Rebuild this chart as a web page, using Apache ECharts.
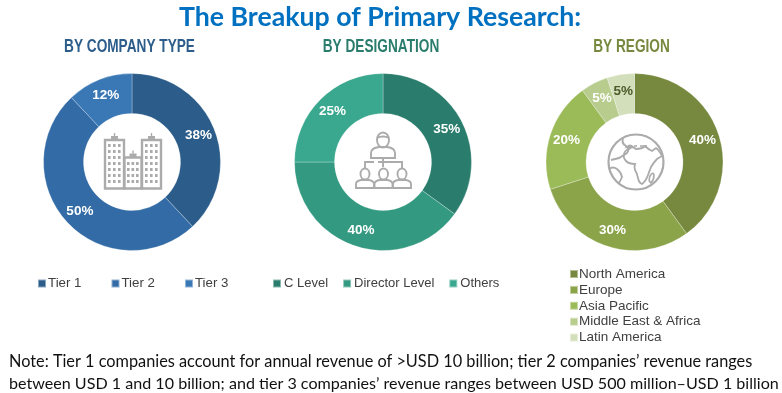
<!DOCTYPE html>
<html><head><meta charset="utf-8">
<style>html,body{margin:0;padding:0;background:#fff}#c{width:782px;height:393px}</style>
<script src="https://cdn.jsdelivr.net/npm/echarts@6/dist/echarts.min.js"></script>
</head><body><div id="c"></div>
<script>
const mainTitle = 'The Breakup of Primary Research:';
const noteLines = [
 'Note: Tier 1 companies account for annual revenue of >USD 10 billion; tier 2 companies\u2019 revenue ranges',
 'between USD 1 and 10 billion; and tier 3 companies\u2019 revenue ranges between USD 500 million\u2013USD 1 billion'
];
const sectionHeads = ['BY COMPANY TYPE','BY DESIGNATION','BY REGION'];
const companyNames = ['Tier 1','Tier 2','Tier 3'];
const companyValues = [38,50,12];
const companyColors = ['#2b5c8a','#326ba5','#3a78b5'];
const designationNames = ['C Level','Director Level','Others'];
const designationValues = [35,40,25];
const designationColors = ['#2a7d6c','#339980','#3aa88f'];
const regionNames = ['North America','Europe','Asia Pacific','Middle East & Africa','Latin America'];
const regionValues = [40,30,20,5,5];
const regionColors = ['#76893e','#8ba44a','#9bbb59','#b7cc8d','#d3dfbb'];

const ICON = '#ababab';
function pie(names, values, colors, cx, darkIdx){
  return {
    type:'pie', center:[cx,162], radius:[48.5,88.5], startAngle:90, clockwise:true,
    silent:true, animation:false, avoidLabelOverlap:false, minShowLabelAngle:0,
    label:{show:true, position:'inside', formatter:'{c}%', color:'#fff',
      fontFamily:'Liberation Sans', fontWeight:'bold', fontSize:13.5},
    labelLine:{show:false},
    itemStyle:{borderColor:'rgba(255,255,255,0.45)', borderWidth:0.6},
    data:names.map((n,i)=>({name:n, value:values[i], itemStyle:{color:colors[i]},
      label: i===darkIdx ? {color:'#4d5a2a'} : undefined}))
  };
}
function legendBase(size, pad){
  return {selectedMode:false, icon:'rect', itemWidth:8, itemHeight:8, padding:0,
    textStyle:{fontFamily:'Liberation Sans', fontSize:size, color:'#404040', padding:[0,0,0,pad]}};
}
const g = [];
function head(text, x, color, sx){
  g.push({type:'text', x, y:38, scaleX:sx, style:{text, textAlign:'center', textVerticalAlign:'top',
    fill:color, font:'bold 17.5px "Liberation Sans"'}});
}
head(sectionHeads[0],129.5,'#2b5c8a',0.78);
head(sectionHeads[1],381,'#2a7d6c',0.78);
head(sectionHeads[2],631.5,'#76893e',0.78);

// decorative centre icons
const stroke = {stroke:ICON, fill:'#fff', lineWidth:2.4};
function rect(x,y,w,h){g.push({type:'rect',shape:{x,y,width:w,height:h},style:{...stroke}});}
function win(x0,y0,cols,rows,dx,dy){
  for(let r=0;r<rows;r++)for(let c=0;c<cols;c++)
    g.push({type:'rect',shape:{x:x0+c*dx,y:y0+r*dy,width:2.6,height:3},style:{fill:ICON}});
}
let shapeId = 0;
function pathRaw(d,extra){
  const name = 'iconPath'+(shapeId++);
  echarts.graphic.registerShape(name, echarts.graphic.extendPath(d,{}));
  g.push({type:name,style:{stroke:ICON,fill:'none',lineWidth:2,...extra}});
}
// buildings
rect(105,140,19,48.5); rect(142,140,19,48.5); rect(124.5,157.5,17,31);
win(108,144,3,7,5,6); win(145,144,3,7,5,6); win(127,162,3,4,4.5,6);
[[114.5,136],[151.5,136],[133,153.5]].forEach(([x,y])=>{
  g.push({type:'rect',shape:{x:x-3.5,y:y,width:7,height:4},style:{fill:ICON}});
  g.push({type:'rect',shape:{x:x-0.7,y:y-3,width:1.4,height:3},style:{fill:ICON}});
});
// people
const pp = {lineWidth:1.9};
pathRaw('M377 140a6 7.5 0 1 0 12 0a6 7.5 0 1 0 -12 0M377 138q6 -3 12 0',pp);
pathRaw('M371 158v-5q0 -5 8 -6h8q8 1 8 6v5z',pp);
pathRaw('M383 158v9M365 168v-6h9M378 162h24v6',pp);
[365,383.5,402].forEach(x=>{
  pathRaw(`M${x-4.5} 174a4.5 5.5 0 1 0 9 0a4.5 5.5 0 1 0 -9 0`,pp);
  pathRaw(`M${x-9} 188v-4q0 -3 5 -4h8q5 1 5 4v4z`,pp);
});
// globe
g.push({type:'circle',shape:{cx:636,cy:162,r:27.5},style:{stroke:ICON,fill:'#fff',lineWidth:2.2}});
pathRaw('M623 138q-2 5 3 8q4 3 1 7l-8 5l-8 2');
pathRaw('M627 147q6 -1 9 2q6 0 9 -3q4 4 7 5l4 -3q3 2 6 8l-5 3q-3 3 -6 8l-3 8q-2 6 -6 9q-3 -1 -4 -6q-1 -5 -3 -8q-1 -3 0 -6q-6 0 -9 -3q-3 -3 -2 -7q1 -4 5 -5q2 -2 4 -2q-3 -3 -6 0z',{lineWidth:1.8});
pathRaw('M609 169q4 -3 8 0q4 3 5 8q-2 5 -4 7',{lineWidth:1.8});
pathRaw('M650 176q3 -5 4 -1q0 5 -3 8q-3 -2 -1 -7z',{lineWidth:1.6});
pathRaw('M634 146h3M640 146h7',{lineWidth:1.6});

const option = {
  animation:false,
  backgroundColor:'#fff',
  title:[
    {text:mainTitle,left:380,top:4,padding:0,textAlign:'center',
     textStyle:{fontFamily:'Lato',fontWeight:'bold',fontSize:26.7,color:'#0070c0'}},
    {text:noteLines[0],left:9,top:354,padding:0,textStyle:{fontFamily:'Lato',fontWeight:'normal',fontSize:16.3,color:'#111'}},
    {text:noteLines[1],left:9,top:376,padding:0,textStyle:{fontFamily:'Lato',fontWeight:'normal',fontSize:16.1,color:'#111'}}
  ],
  legend:[
    {...legendBase(13.3,-3),data:companyNames,left:37,top:277,itemGap:29},
    {...legendBase(13,-2),data:designationNames,left:272,top:277,itemGap:14},
    {...legendBase(13.5,-4),data:regionNames,left:569,top:267,orient:'vertical',itemGap:1.9}
  ],
  series:[
    pie(companyNames,companyValues,companyColors,132),
    pie(designationNames,designationValues,designationColors,383),
    pie(regionNames,regionValues,regionColors,634.5,4)
  ],
  graphic:g
};
echarts.init(document.getElementById('c'),null,{renderer:'canvas'}).setOption(option);
</script></body></html>
